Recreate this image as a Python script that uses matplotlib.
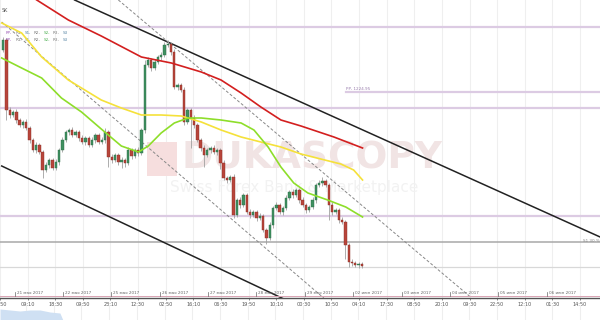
import numpy as np
import matplotlib
matplotlib.use("Agg")
import matplotlib.pyplot as plt
from matplotlib.patches import Rectangle

# candle closes (price), first open, wick lengths
first_open = 1250
close = [1260, 1190, 1185, 1188, 1180, 1175, 1178, 1172, 1160, 1150,
         1155, 1148, 1130, 1135, 1140, 1132, 1138, 1150, 1160, 1168,
         1170, 1165, 1168, 1162, 1158, 1162, 1155, 1160, 1165, 1158,
         1160, 1168, 1143, 1140, 1145, 1138, 1140, 1137, 1150, 1144,
         1150, 1147, 1170, 1235, 1240, 1232, 1238, 1243, 1245, 1255,
         1256, 1248, 1213, 1215, 1210, 1178, 1190, 1182, 1175, 1160,
         1152, 1145, 1150, 1152, 1148, 1150, 1137, 1122, 1120, 1123,
         1085, 1100, 1095, 1105, 1088, 1085, 1088, 1082, 1084, 1070,
         1062, 1075, 1092, 1095, 1088, 1092, 1102, 1108, 1105, 1110,
         1100, 1095, 1090, 1093, 1100, 1115, 1117, 1119, 1115, 1095,
         1088, 1090, 1080, 1078, 1055, 1038, 1037, 1035, 1036, 1034]
up_wick = [3, 2, 3, 2, 3, 2, 2, 3, 2, 2,
           3, 2, 2, 3, 2, 2, 3, 2, 3, 2,
           2, 3, 2, 2, 3, 2, 2, 3, 2, 2,
           3, 4, 2, 3, 2, 2, 3, 2, 3, 2,
           2, 3, 2, 5, 3, 2, 3, 2, 3, 3,
           4, 2, 3, 2, 2, 3, 2, 2, 3, 2,
           2, 3, 2, 2, 3, 2, 2, 3, 2, 2,
           3, 2, 3, 2, 2, 3, 2, 2, 3, 2,
           2, 3, 2, 3, 2, 2, 3, 2, 3, 2,
           2, 3, 2, 2, 3, 2, 3, 4, 2, 2,
           3, 2, 2, 3, 2, 2, 3, 2, 2, 2]
dn_wick = [2, 10, 3, 2, 3, 2, 3, 2, 3, 2,
           3, 2, 8, 2, 3, 2, 2, 3, 2, 2,
           3, 2, 2, 3, 2, 3, 2, 2, 3, 2,
           2, 3, 10, 3, 2, 3, 6, 4, 2, 3,
           2, 3, 2, 3, 2, 3, 2, 2, 3, 2,
           2, 3, 2, 3, 2, 3, 2, 30, 3, 2,
           3, 12, 2, 3, 2, 3, 6, 2, 3, 2,
           3, 2, 3, 2, 2, 3, 2, 3, 2, 2,
           6, 2, 3, 2, 2, 3, 2, 2, 3, 2,
           3, 2, 3, 2, 2, 3, 2, 3, 2, 15,
           3, 2, 3, 2, 14, 5, 3, 2, 3, 2]

# moving averages (candle index, price)
red_x = [-0.45, 10.2, 19.8, 29.8, 42.0, 51.1, 60.2, 66.2, 72.3, 78.3, 84.4, 90.5, 100.5, 109.2]
red_y = [1325, 1300, 1280, 1264, 1243, 1237, 1228, 1220, 1207, 1193, 1180, 1174, 1163, 1152]
yel_x = [-0.45, 5.6, 11.7, 19.8, 29.8, 35.9, 42.0, 48.0, 54.1, 60.2, 66.2, 72.3, 78.3, 84.4,
         90.5, 96.5, 102.6, 106.5, 109.2]
yel_y = [1277, 1267, 1243, 1220, 1200, 1192, 1185, 1185, 1184, 1178, 1170, 1163, 1158, 1153,
         1146, 1141, 1136, 1130, 1120]
grn_x = [-0.45, 5.6, 11.7, 17.7, 23.8, 29.8, 35.9, 41.1, 44.1, 48.0, 52.0, 56.2, 60.2, 66.2,
         72.3, 76.2, 80.5, 84.4, 88.3, 92.6, 98.6, 104.1, 109.2]
grn_y = [1242, 1232, 1222, 1202, 1188, 1171, 1154, 1148, 1154, 1167, 1177, 1182, 1182, 1180,
         1177, 1170, 1153, 1133, 1117, 1107, 1100, 1093, 1083]

# trend channel lines (x0, y0, x1, y1)
black_lines = [(21.7, 1300, 181.4, 1063), (-0.45, 1134, 85.3, 1001)]
dashed_lines = [(35.0, 1300, 142.0, 1003), (-0.45, 1278, 97.4, 1002)]

# horizontal levels
pivot_levels = [1273.3, 1192.3, 1084.3]
pp_level = 1208.3
s1_level = 1058
light_level = 1033.3

time_labels = ["08:50", "09:10", "18:30", "09:50", "23:10", "12:30", "02:50", "16:10",
               "06:30", "19:50", "10:10", "00:30", "10:50", "04:10", "17:30", "08:50",
               "20:10", "09:30", "22:50", "12:10", "01:30", "14:50"]
date_labels = ["21 мая 2017", "22 мая 2017", "25 мая 2017", "26 мая 2017", "27 мая 2017",
               "28 мая 2017", "29 мая 2017", "02 июн 2017", "03 июн 2017", "04 июн 2017",
               "05 июн 2017", "06 июн 2017"]

# lower indicator panel
ind_x = [-0.45, 2.6, 5.6, 8.6, 11.7, 14.7, 17.7, 18.6]
ind_y = [11, 10, 9, 10, 10, 8, 7, 0]


def px2i(px):
    return (px - 1.5) / 3.3


fig = plt.figure(figsize=(6, 3.2), dpi=100)
ax = fig.add_axes([0, 22 / 320, 1, 298 / 320])
ax.set_xlim(px2i(0), px2i(600))
ax.set_ylim(1002, 1300)

close = np.array(close, dtype=float)
opens = np.r_[first_open, close[:-1]]
idx = np.arange(len(close))
hi = np.maximum(opens, close) + np.array(up_wick)
lo = np.minimum(opens, close) - np.array(dn_wick)
rising = close >= opens

# grid
grid_x = [px2i(-1.7 + 27.7 * k) for k in range(len(time_labels))]
for gx in grid_x:
    ax.axvline(gx, color="#efefef", lw=0.8, zorder=0)

# levels
for lv in pivot_levels:
    ax.axhline(lv, color="#dccbe3", lw=1.6, zorder=1)
ax.plot([px2i(345), px2i(600)], [pp_level, pp_level], color="#dccbe3", lw=1.6, zorder=1)
ax.text(px2i(345), pp_level + 1.5, "PP, 1224.95", fontsize=3, color="#9a7fae", zorder=6)
ax.axhline(s1_level, color="#a8a8a8", lw=1.1, zorder=1)
ax.text(px2i(583), s1_level + 0.5, "S1 30.%,1", fontsize=3, color="#888888", zorder=6)
ax.axhline(light_level, color="#d8d8d8", lw=0.9, zorder=1)

# watermark
ax.add_patch(Rectangle((0.245, 0.41), 0.05, 0.115, transform=ax.transAxes,
                       color="#f6dede", lw=0, zorder=1))
ax.text(0.52, 0.468, "DUKASCOPY", transform=ax.transAxes, fontsize=27, fontweight="bold",
        color="#f1e4e4", ha="center", va="center", zorder=1)
ax.text(0.49, 0.37, "Swiss Forex Bank & Marketplace", transform=ax.transAxes, fontsize=11,
        color="#f2f2f2", ha="center", va="center", zorder=1)

# channels
for x0, y0, x1, y1 in black_lines:
    ax.plot([x0, x1], [y0, y1], color="#222222", lw=1.1, zorder=2)
for x0, y0, x1, y1 in dashed_lines:
    ax.plot([x0, x1], [y0, y1], color="#888888", lw=0.7, ls=(0, (3, 2)), zorder=2)

# candles
ax.vlines(idx, lo, hi, color="#a0a0a0", lw=0.6, zorder=3)
body_col = np.where(rising, "#3f9060", "#b8453b")
edge_col = np.where(rising, "#2b6b45", "#8a2e26")
ax.bar(idx, np.maximum(np.abs(close - opens), 0.8), bottom=np.minimum(opens, close),
       width=0.72, color=body_col, edgecolor=edge_col, linewidth=0.3, zorder=4)

# moving averages
ax.plot(red_x, red_y, color="#d31f1f", lw=1.2, zorder=5)
ax.plot(yel_x, yel_y, color="#f5e13a", lw=1.2, zorder=5)
ax.plot(grn_x, grn_y, color="#8ede2a", lw=1.2, zorder=5)

# texts top-left
ax.text(px2i(0), 1290, "SK", fontsize=3.5, color="#555555", va="center")
tokens = ["PP,", "R1,", "S1,", "R2,", "S2,", "R3,", "S3"]
tok_cols = ["#9b59b6", "#7f7f7f", "#5d8aa8", "#7f7f7f", "#4caf50", "#7f7f7f", "#5d8aa8"]
for row, yy in enumerate([1267, 1260]):
    xx = px2i(4)
    for t, c in zip(tokens, tok_cols):
        ax.text(xx, yy, t, fontsize=3, color=c, va="center")
        xx += px2i(9.5) - px2i(0)

# date row
ax.axhline(1004.5, color="#d9a3b3", lw=0.7, zorder=2)
for k, lab in enumerate(date_labels):
    dx = px2i(13 + 48.5 * k)
    ax.plot([dx, dx], [1004.5, 1008.5], color="#666666", lw=0.5)
    ax.text(dx + 0.6, 1007.5, lab, fontsize=3, color="#666666", va="center")

for s in ["top", "left", "right"]:
    ax.spines[s].set_visible(False)
ax.spines["bottom"].set_color("#555555")
ax.spines["bottom"].set_linewidth(1.0)
ax.set_yticks([])
ax.set_xticks(grid_x)
ax.set_xticklabels(time_labels)
ax.tick_params(axis="x", length=1.5, width=0.5, colors="#555555", labelsize=3.6, pad=1.5)

# bottom panel
bx = fig.add_axes([0, 0, 1, 15 / 320])
bx.set_xlim(px2i(0), px2i(600))
bx.set_ylim(0, 15)
bx.fill_between(ind_x, 0, ind_y, color="#cfe0f3", lw=0)
for gx in grid_x:
    bx.axvline(gx, color="#eeeeee", lw=0.8, zorder=0)
bx.axis("off")

fig.savefig("out.png", dpi=100)
